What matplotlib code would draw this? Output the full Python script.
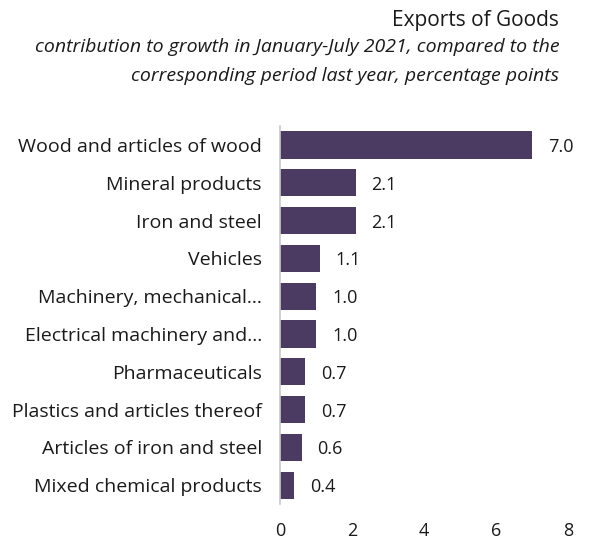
import matplotlib.pyplot as plt

plt.rcParams['font.family'] = ['Open Sans', 'DejaVu Sans']

categories = [
    "Wood and articles of wood",
    "Mineral products",
    "Iron and steel",
    "Vehicles",
    "Machinery, mechanical\u2026",
    "Electrical machinery and\u2026",
    "Pharmaceuticals",
    "Plastics and articles thereof",
    "Articles of iron and steel",
    "Mixed chemical products",
]
values = [7.0, 2.1, 2.1, 1.1, 1.0, 1.0, 0.7, 0.7, 0.6, 0.4]
value_labels = ["7.0", "2.1", "2.1", "1.1", "1.0", "1.0", "0.7", "0.7", "0.6", "0.4"]
xticks = [0, 2, 4, 6, 8]

fig = plt.figure(figsize=(5.95, 5.41), dpi=100)
ax = fig.add_axes([0.4706, 0.068, 0.484, 0.699])

ypos = list(range(len(categories)))
ax.barh(ypos, values, height=0.72, color='#4b3b62')
ax.set_ylim(len(categories) - 0.5, -0.5)
ax.set_xlim(0, 8)
ax.set_yticks(ypos)
ax.set_yticklabels(categories, fontsize=14, color='#1a1a1a')
ax.set_xticks(xticks)
ax.set_xticklabels([str(t) for t in xticks], fontsize=13, color='#1a1a1a')
ax.tick_params(axis='both', length=0)
ax.tick_params(axis='y', pad=13)
ax.tick_params(axis='x', pad=13)

for s in ['top', 'right', 'bottom']:
    ax.spines[s].set_visible(False)
ax.spines['left'].set_color('#c8c8c8')
ax.spines['left'].set_linewidth(1.2)

for y, v, lab in zip(ypos, values, value_labels):
    ax.annotate(lab, (v, y), xytext=(16, -2), textcoords='offset pixels',
                va='center', ha='left', fontsize=13, color='#1a1a1a')

fig.text(0.94, 0.962, "Exports of Goods", ha='right', va='center', fontsize=15, color='#1a1a1a')
fig.text(0.94, 0.913, "contribution to growth in January-July 2021, compared to the",
         ha='right', va='center', fontsize=14, style='italic', color='#1a1a1a')
fig.text(0.94, 0.86, "corresponding period last year, percentage points",
         ha='right', va='center', fontsize=14, style='italic', color='#1a1a1a')

fig.savefig('out.png', dpi=100)
